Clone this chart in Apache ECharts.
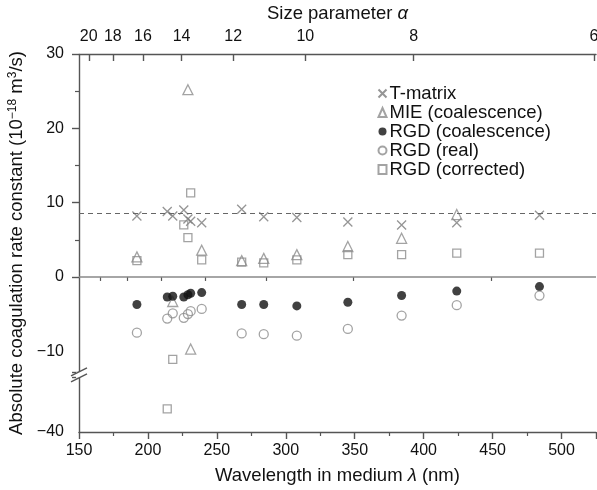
<!DOCTYPE html>
<html><head><meta charset="utf-8">
<script src="https://cdn.jsdelivr.net/npm/echarts@6/dist/echarts.min.js"></script>
<style>html,body{margin:0;padding:0;background:#fff}#c{width:597px;height:490px}</style>
</head><body><div id="c"></div>
<script>
// ---- data ----
const wavelengths = [192, 214, 218, 226, 229, 231, 239, 268, 284, 308, 345, 384, 424, 484];
const tMatrix     = [8.2, 8.8, 8.2, 9.0, 7.8, 7.5, 7.3, 9.1, 8.1, 8.0, 7.4, 7.0, 7.3, 8.3];
const mieCoal     = [2.7, null, -3.3, null, 25.2, -9.7, 3.6, 2.2, 2.5, 3.0, 4.1, 5.2, 8.4, null];
const rgdCoal     = [-3.7, -2.7, -2.6, -2.7, -2.4, -2.2, -2.1, -3.7, -3.7, -3.9, -3.4, -2.5, -1.9, -1.3];
const rgdReal     = [-7.5, -5.6, -4.9, -5.5, -5.0, -4.6, -4.3, -7.6, -7.7, -7.9, -7.0, -5.2, -3.8, -2.5];
const rgdCorr     = [2.2, -36.9, -11.1, 7.0, 5.3, 11.3, 2.3, 2.0, 1.9, 2.3, 3.0, 3.0, 3.2, 3.2];
const refLine = 8.57;
const yLabelValues = [-40, -10, 0, 10, 20, 30];
const alphaMajor = [20, 18, 16, 14, 12, 10, 8, 6];
const alphaMinor = [19, 17, 15, 13, 11, 9, 7];
const alphaTimesLambda = 1000 * Math.PI;   // alpha = 1000*pi / lambda
const yBreak = [-32.7, -12.8];

const pairs = arr => wavelengths.map((w, i) => [w, arr[i]]).filter(p => p[1] !== null);
const toLambda = a => alphaTimesLambda / a;
const minus = v => String(v).replace('-', '\u2212');

const FONT = 'Liberation Sans, Arial, sans-serif';
const AX = '#555';
const GRAY = '#8c8c8c';

const chart = echarts.init(document.getElementById('c'), null, {renderer: 'canvas'});

const commonX = {type: 'value', min: 150, max: 525, gridIndex: 0, splitLine: {show: false}};

const option = {
  animation: false,
  backgroundColor: '#fff',
  textStyle: {fontFamily: FONT},
  grid: {left: 79, right: 1, top: 54, bottom: 58, containLabel: false, outerBoundsMode: 'none'},
  legend: {
    orient: 'vertical', left: 376, top: 84, padding: 0, itemWidth: 8, itemHeight: 9, itemGap: 0,
    textStyle: {fontSize: 18.5, color: '#111', fontFamily: FONT, lineHeight: 17.4, padding: [0, 0, 0, -2]},
    data: ['T-matrix', 'MIE (coalescence)', 'RGD (coalescence)', 'RGD (real)', 'RGD (corrected)']
  },
  xAxis: [
    Object.assign({}, commonX, {
      position: 'bottom', interval: 50,
      name: 'Wavelength in medium {i|\u03bb} (nm)', nameLocation: 'middle', nameGap: 34,
      nameTextStyle: {fontSize: 18.5, color: '#111', fontFamily: FONT, rich: {i: {fontStyle: 'italic', fontSize: 18.5, fontFamily: FONT}}},
      axisLine: {show: true, onZero: false, lineStyle: {color: AX, width: 1.4}},
      axisTick: {show: true, inside: false, length: 7, lineStyle: {color: AX, width: 1.4}},
      minorTick: {show: true, splitNumber: 2, length: 4, lineStyle: {color: AX, width: 1.2}},
      axisLabel: {fontSize: 16, color: '#111', margin: 11, fontFamily: FONT, showMaxLabel: false}
    }),
    Object.assign({}, commonX, {
      position: 'top',
      name: 'Size parameter {i|\u03b1}', nameLocation: 'middle', nameGap: 31,
      nameTextStyle: {fontSize: 18.5, color: '#111', fontFamily: FONT, rich: {i: {fontStyle: 'italic', fontSize: 18.5, fontFamily: FONT}}},
      axisLine: {show: true, onZero: false, lineStyle: {color: AX, width: 1.4}},
      axisTick: {show: true, inside: true, length: 7, customValues: alphaMajor.map(toLambda), lineStyle: {color: AX, width: 1.4}},
      axisLabel: {fontSize: 16, color: '#111', margin: 9, fontFamily: FONT,
        customValues: alphaMajor.map(toLambda), formatter: v => String(Math.round(alphaTimesLambda / v))}
    }),
    Object.assign({}, commonX, {
      position: 'top',
      axisLine: {show: false},
      axisTick: {show: true, inside: true, length: 4, customValues: alphaMinor.map(toLambda), lineStyle: {color: AX, width: 1.2}},
      axisLabel: {show: false}
    })
  ],
  yAxis: {
    type: 'value', min: -40, max: 30, interval: 10,
    breaks: [{start: yBreak[0], end: yBreak[1], gap: '1.5%'}],
    breakArea: {show: true, expandOnClick: false, zigzagAmplitude: 0, zigzagZ: 1,
      itemStyle: {color: '#fff', borderColor: '#fff', borderWidth: 0, opacity: 1}},
    name: 'Absolute coagulation rate constant (10{s|\u221218} m{s|3}/s)',
    nameLocation: 'middle', nameGap: 43, nameRotate: 90,
    nameTextStyle: {fontSize: 18.5, color: '#111', fontFamily: FONT,
      rich: {s: {fontSize: 12, verticalAlign: 'top', fontFamily: FONT, padding: [0, 0, 8, 0]}}},
    splitLine: {show: false},
    axisLine: {show: true, onZero: false, lineStyle: {color: AX, width: 1.4}},
    axisTick: {show: true, inside: false, length: 7, lineStyle: {color: AX, width: 1.4}},
    minorTick: {show: true, splitNumber: 2, length: 4, lineStyle: {color: AX, width: 1.2}},
    axisLabel: {fontSize: 16, color: '#111', margin: 15, fontFamily: FONT, hideOverlap: false,
      customValues: yLabelValues, formatter: v => minus(Math.round(v))}
  },
  series: [
    {
      name: 'T-matrix', type: 'scatter', xAxisIndex: 0,
      symbol: 'path://M0,0L10,10M10,0L0,10', symbolSize: 9,
      itemStyle: {color: 'none', borderColor: '#7a7a7a', borderWidth: 1.3},
      data: pairs(tMatrix),
      markLine: {silent: true, symbol: 'none', label: {show: false},
        lineStyle: {type: [5, 4], color: '#666', width: 1},
        data: [{yAxis: refLine}]}
    },
    {
      name: 'MIE (coalescence)', type: 'scatter', xAxisIndex: 0,
      symbol: 'triangle', symbolSize: 10,
      itemStyle: {color: 'none', borderColor: GRAY, borderWidth: 1.3},
      data: pairs(mieCoal),
      markLine: {silent: true, symbol: 'none', label: {show: false},
        lineStyle: {type: 'solid', color: '#888', width: 1.6},
        data: [{yAxis: 0}]}
    },
    {
      name: 'RGD (coalescence)', type: 'scatter', xAxisIndex: 0,
      symbol: 'circle', symbolSize: 9,
      itemStyle: {color: '#111', borderColor: '#111', borderWidth: 0},
      data: pairs(rgdCoal)
    },
    {
      name: 'RGD (real)', type: 'scatter', xAxisIndex: 0,
      symbol: 'circle', symbolSize: 9,
      itemStyle: {color: 'none', borderColor: GRAY, borderWidth: 1.3},
      data: pairs(rgdReal)
    },
    {
      name: 'RGD (corrected)', type: 'scatter', xAxisIndex: 0,
      symbol: 'rect', symbolSize: 8,
      itemStyle: {color: 'none', borderColor: GRAY, borderWidth: 1.3},
      data: pairs(rgdCorr)
    }
  ]
};
chart.setOption(option);

// axis-break marks "//" on the left axis
const yTop = chart.convertToPixel({yAxisIndex: 0}, yBreak[1]);
const yBot = chart.convertToPixel({yAxisIndex: 0}, yBreak[0]);
const x0 = chart.convertToPixel({xAxisIndex: 0}, 150);
if (isFinite(yTop) && isFinite(yBot)) {
  const yc = (yTop + yBot) / 2;
  chart.setOption({graphic: [
    {type: 'rect', shape: {x: x0 - 3, y: yc - 3, width: 6, height: 6}, style: {fill: '#fff'}, z: 100},
    {type: 'line', shape: {x1: x0 - 8, y1: yc + 1, x2: x0 + 8, y2: yc - 7}, style: {stroke: AX, lineWidth: 1.4}, z: 101},
    {type: 'line', shape: {x1: x0 - 8, y1: yc + 7, x2: x0 + 8, y2: yc - 1}, style: {stroke: AX, lineWidth: 1.4}, z: 101}
  ]});
}
</script>
</body></html>
